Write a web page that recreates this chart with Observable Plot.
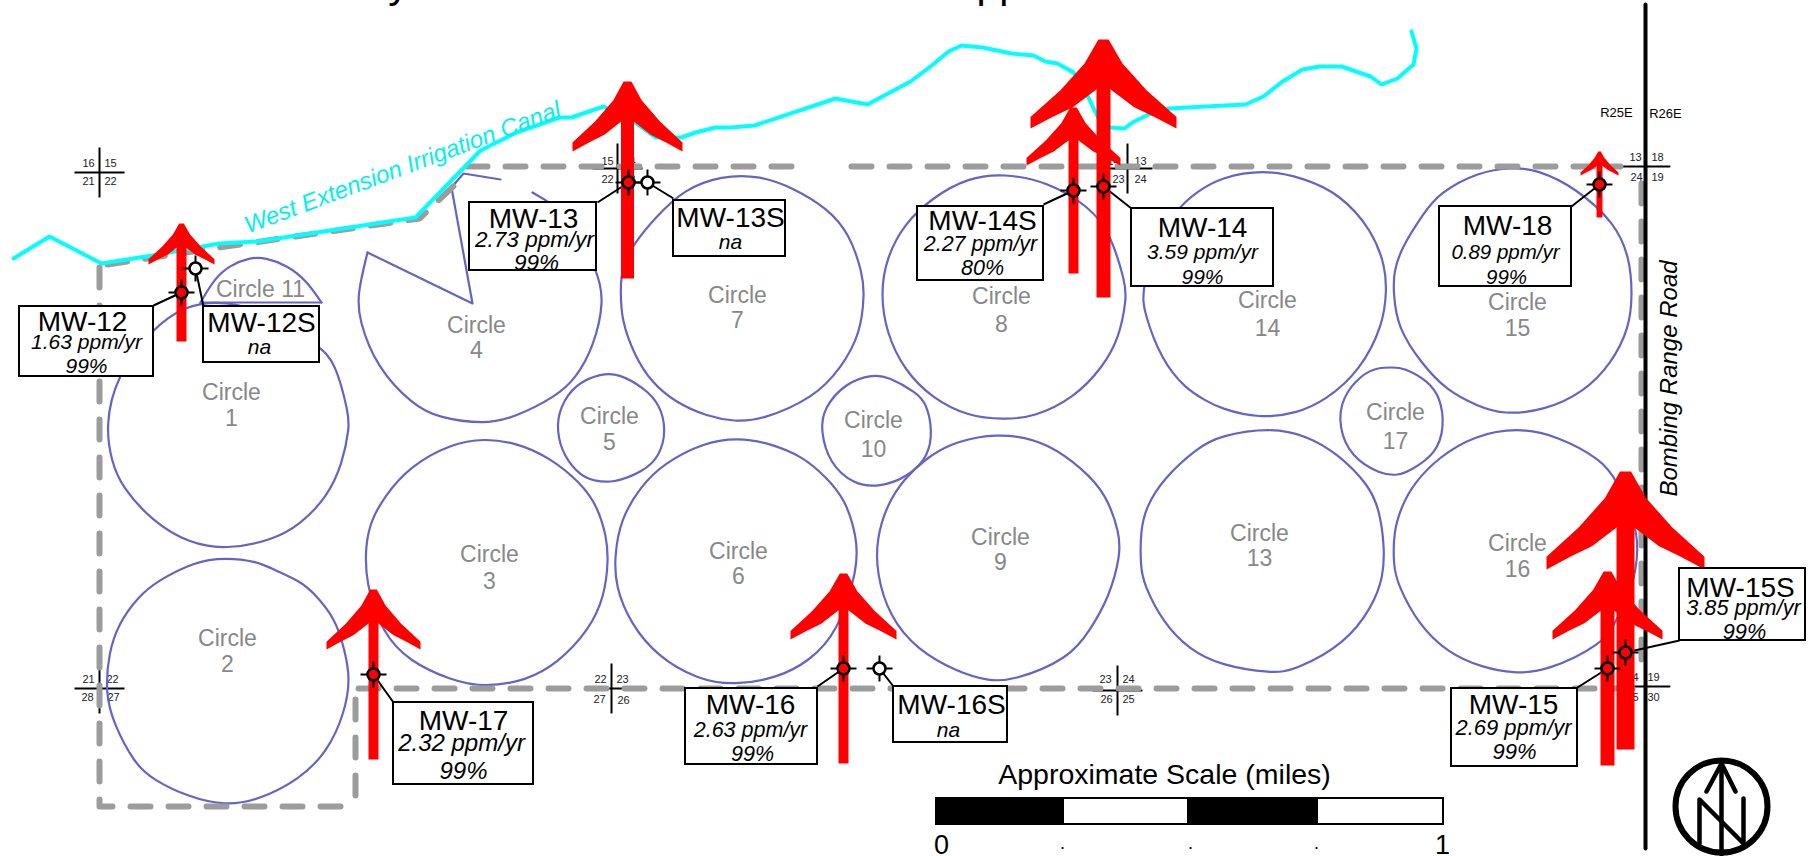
<!DOCTYPE html>
<html><head><meta charset="utf-8">
<script src="https://cdn.jsdelivr.net/npm/d3@7"></script>
<script src="https://cdn.jsdelivr.net/npm/@observablehq/plot@0.6"></script>
<style>html,body{margin:0;padding:0;background:#fff}svg{display:block;overflow:hidden}</style>
</head><body><div id="chart"></div>
<script>
// ---- monitoring wells
const wellNames = ["MW-12","MW-12S","MW-13","MW-13S","MW-14S","MW-14","MW-18","MW-17","MW-16","MW-16S","MW-15","MW-15S"];
const wellRates = ["1.63 ppm/yr","na","2.73 ppm/yr","na","2.27 ppm/yr","3.59 ppm/yr","0.89 ppm/yr","2.32 ppm/yr","2.63 ppm/yr","na","2.69 ppm/yr","3.85 ppm/yr"];
const wellConf  = ["99%","","99%","","80%","99%","99%","99%","99%","","99%","99%"];
const wellFill  = ["red","white","red","white","red","red","red","red","red","white","red","red"];
const wellX = [181,195,628,647,1073,1103,1599,373,843,879,1607,1625];
const wellY = [292,268,182,182,190,186,184,674,668,668,668,652];
const rateFont = [21,21,22.5,21,21.5,21,20.5,24,21.5,21,22,21.7];
// label boxes [x1,y1,x2,y2] and leader start [x,y]
const boxes = [[19,306,153,376],[203,306,319,362],[469,202,596,270],[673,200,785,256],[917,206,1043,280],[1131,208,1273,286],[1439,206,1571,286],[393,702,533,784],[685,688,817,764],[893,686,1007,742],[1451,688,1577,766],[1679,568,1805,640]];
const leaders = [[153,305],[203,306],[597,202],[673,198],[1043,204],[1131,208],[1571,206],[393,702],[817,686],[893,686],[1577,687],[1679,640]];
// text anchors [x,baseline]
const nameAt = [[82,330],[261,331],[533,227],[730,226],[982,229],[1202,236],[1507,234],[463,729],[750,713],[951,713],[1513,713],[1740,596]];
const rateAt = [[86,348],[259,353],[534,246],[730,248],[980,250],[1202,258],[1505,258],[461,750],[750,736],[948,736],[1513,734],[1743,614]];
const confAt = [[86,372],[0,0],[536,269],[0,0],[982,274],[1202,283],[1506,283],[463,778],[752,760],[0,0],[1514,758],[1744,638]];

// ---- trend arrows
const arrowX     = [181,627,1073,1103,1599,373,843,1607,1625];
const arrowTipY  = [223,81,107,39,151,589,573,571,471];
const arrowWingY = [264,151,165,128,175,649,639,639,569];
const arrowHalf  = [33,55,47,73,19,47,53,55,79];
const arrowBaseY = [341,278,273,297,217,759,763,765,749];
const arrowShaft = [10,13,10,14,6,10,10,14,18];
const headDX = [0.07,0.26,0.59,1,1,0.70,0.42,0.08];
const headDY = [0,0.27,0.57,0.87,1,0.87,0.76,0.55];

// ---- pivot circles
const circle1 = [[105,426],[115,377],[152,327],[186,305],[214,301],[253,305],[319,345],[335,362],[348,413],[349,426],[342,463],[327,496],[299,525],[271,540],[225,549],[189,543],[152,521],[121,486],[111,461]];
const circle2 = [[225,557],[257,561],[273,569],[300,581],[312,591],[335,618],[344,649],[350,678],[344,713],[327,751],[299,779],[257,800],[225,805],[189,797],[152,779],[134,763],[113,723],[105,693],[108,653],[118,623],[138,596],[156,581],[194,561]];
const circle3 = [[484,438],[514,442],[548,456],[581,483],[597,506],[606,536],[608,559],[604,596],[589,629],[557,663],[526,680],[484,687],[451,680],[409,661],[382,633],[365,583],[365,543],[371,519],[384,496],[409,466],[451,443]];
const circle4edge = [[451,187],[472,303],[367,252]];
const circle4arc = [[367,252],[357,293],[358,318],[376,367],[413,405],[437,417],[484,424],[514,417],[557,395],[575,378],[593,347],[604,300],[597,270],[570,220],[550,202],[532,192]];
const circle4top = [[451,187],[463,173],[500,179]];
const circle5 = [[556,430],[559,407],[575,383],[601,373],[618,373],[643,387],[659,403],[666,430],[659,456],[643,471],[612,483],[593,480],[581,476],[563,456]];
const circle6 = [[738,437],[770,443],[802,456],[825,476],[845,499],[856,536],[858,566],[837,633],[808,661],[778,677],[734,685],[697,679],[657,656],[630,623],[615,586],[614,556],[620,519],[640,486],[663,463],[703,442]];
const circle7 = [[721,175],[760,175],[794,188],[827,208],[849,233],[862,273],[864,293],[860,333],[841,367],[814,397],[760,420],[734,421],[707,416],[675,402],[651,382],[634,355],[621,320],[620,290],[621,267],[634,242],[655,217],[683,189]];
const circle8 = [[1003,173],[1047,181],[1090,207],[1110,233],[1125,283],[1126,297],[1119,337],[1102,367],[1074,397],[1033,417],[1003,419],[968,416],[932,398],[904,370],[886,333],[880,293],[886,257],[904,223],[932,197],[968,177]];
const circle9 = [[995,435],[1015,435],[1047,443],[1082,468],[1106,494],[1119,533],[1120,554],[1109,596],[1090,629],[1069,658],[1011,681],[987,680],[958,672],[916,649],[889,616],[876,573],[876,538],[887,503],[904,478],[924,459],[950,443],[980,436]];
const circle10 = [[820,430],[823,408],[845,382],[873,374],[887,376],[916,392],[926,403],[932,430],[928,456],[908,476],[879,487],[853,484],[829,463]];
const circle11arc = [[200,302],[214,278],[229,265],[249,257],[265,257],[287,265],[306,280],[321,302]];
const circle11base = [[200,302],[321,302]];
const circle13 = [[1270,427],[1306,435],[1337,453],[1368,484],[1379,509],[1384,546],[1383,576],[1372,606],[1345,643],[1294,670],[1272,673],[1220,665],[1189,649],[1163,623],[1143,583],[1140,566],[1140,529],[1146,506],[1162,479],[1197,447],[1220,435]];
const circle14 = [[1263,169],[1302,177],[1339,193],[1372,230],[1385,267],[1386,290],[1383,323],[1360,370],[1325,400],[1296,413],[1259,418],[1220,408],[1205,400],[1185,388],[1161,360],[1143,310],[1142,293],[1150,250],[1177,207],[1197,191],[1220,177]];
const circle15 = [[1513,167],[1536,169],[1575,187],[1615,223],[1629,257],[1632,293],[1629,327],[1611,363],[1583,392],[1544,410],[1503,414],[1478,406],[1446,390],[1421,363],[1397,327],[1393,293],[1393,272],[1401,247],[1423,213],[1438,193],[1478,171]];
const circle16 = [[1517,427],[1556,435],[1601,459],[1616,479],[1635,523],[1638,549],[1633,586],[1614,623],[1603,643],[1546,671],[1513,673],[1482,667],[1448,653],[1417,623],[1397,583],[1393,566],[1393,531],[1401,506],[1413,483],[1439,456],[1474,435]];
const circle17 = [[1392,367],[1403,367],[1427,380],[1440,397],[1444,426],[1436,453],[1410,470],[1398,475],[1380,474],[1350,456],[1338,426],[1341,397],[1362,373],[1378,367]];
const closedCircles = {circle1,circle2,circle3,circle5,circle6,circle7,circle8,circle9,circle10,circle13,circle14,circle15,circle16,circle17};
const arcs = {circle4arc,circle11arc};
const straightEdges = {circle4edge,circle4top,circle11base};
const circleLabels = [["Circle","1",231,399,425],["Circle","2",227,645,671],["Circle","3",489,561,588],["Circle","4",476,332,357],["Circle","5",609,423,449],["Circle","6",738,558,583],["Circle","7",737,302,327],["Circle","8",1001,303,331],["Circle","9",1000,544,569],["Circle","10",873,427,456],["Circle 11","",260,296,0],["Circle","13",1259,540,565],["Circle","14",1267,307,335],["Circle","15",1517,309,335],["Circle","16",1517,550,576],["Circle","17",1395,419,448]];

// ---- canal, boundary, road
const canal = [[13,258],[49,236],[101,263],[152,255],[219,243],[257,241],[415,217],[480,150],[516,132],[559,117],[571,117],[603,106],[636,123],[655,137],[681,137],[695,132],[715,127],[730,127],[754,125],[835,98],[867,104],[910,81],[930,66],[948,51],[961,45],[982,47],[1011,53],[1033,55],[1045,61],[1057,63],[1073,72],[1086,93],[1098,118],[1110,127],[1124,128],[1132,122],[1148,114],[1169,108],[1205,106],[1245,104],[1263,96],[1282,81],[1302,69],[1319,66],[1341,66],[1370,76],[1381,84],[1397,78],[1413,64],[1416,48],[1411,31]];
const boundaryA = [[107,264],[219,247],[419,218],[459,180]];
const boundaryB = [[467,166],[798,166]];
const boundaryC = [[851,166],[1620,166]];
const boundaryD = [[1641,183],[1641,673]];
const boundaryE = [[358,688],[1634,688]];
const boundaryF = [[355,699],[355,801]];
const boundaryG = [[99,267],[99,806],[345,806],[346,808]];
const road = [[1645,4],[1645,848]];

// ---- section corners [x, y, half width, half height]
const corners = [[99,172,25,25],[99,688,25,25],[611,688,25,25],[1117,690,25,25],[1127,168,25,25],[617,168,25,25]];
const cornerStub = [[[1620,166],[1669,166]],[[1634,686],[1669,686]]];
const sectionNums = [["16",88,163],["15",110,163],["21",88,181],["22",110,181],["21",88,679],["22",112,679],["28",87,697],["27",113,697],["22",600,679],["23",622,679],["27",599,699],["26",623,700],["23",1105,679],["24",1128,679],["26",1106,699],["25",1128,699],["13",1140,161],["23",1118,179],["24",1140,179],["14",1113,161],["15",607,161],["14",629,161],["22",607,179],["23",629,179],["13",1635,157],["18",1657,157],["24",1636,177],["19",1657,177],["19",1653,677],["30",1653,697],["24",1632,677],["25",1632,697]];
const rangeLabels = [["R25E",1616,112],["R26E",1665,113]];

// ---- scale bar
const scaleEdges = [936,1063,1188,1317,1443];
const scaleFills = ["black","white","black","white"];
const scaleTicks = [["0",941,853,27],[".",1062,848,18],[".",1190,848,18],[".",1316,848,18],["1",1442,853,27]];

// ---- north arrow
const northCentre = [1721,806];
const northStrokes = [[[1721,763],[1721,854]],[[1706,791],[1721,763],[1735,791]],[[1699,843],[1699,799],[1743,843],[1743,798]]];

const pts = o => Object.entries(o).flatMap(([k, a]) => a.map(([x,y]) => ({k,x,y})));
const xy = {x:"x", y:"y", z:"k"};
const FONT = "Liberation Sans, Arial, sans-serif";
const CIRCLE = {stroke:"#6464c8",strokeWidth:2.2};

const wells = wellNames.map((name,i) => ({name, rate:wellRates[i], conf:wellConf[i], fill:wellFill[i], x:wellX[i], y:wellY[i], rf:rateFont[i],
  b:boxes[i], l:leaders[i], n:nameAt[i], r:rateAt[i], c:confAt[i]}));
const arrows = arrowX.map((x,i) => ({id:i, x, tip:arrowTipY[i], wing:arrowWingY[i], half:arrowHalf[i], base:arrowBaseY[i], w:arrowShaft[i]}));
const headRows = arrows.flatMap(a => {
  const h = a.wing - a.tip;
  const right = headDX.map((d,j) => ({k:a.id, x:a.x + d*a.half, y:a.tip + headDY[j]*h}));
  const left = headDX.map((d,j) => ({k:a.id, x:a.x - d*a.half, y:a.tip + headDY[j]*h})).reverse();
  return [...right, ...left];
});
const bars = scaleFills.map((f,i) => ({f, x1:scaleEdges[i], x2:scaleEdges[i+1]}));
const crossH = corners.map(([x,y,w]) => ({x1:x-w,x2:x+w,y1:y,y2:y}));
const crossV = corners.map(([x,y,w,h]) => ({x1:x,x2:x,y1:y-h,y2:y+h}));
const crossMark = 13;

const plot = Plot.plot({
  width:1813, height:856, margin:0,
  x:{domain:[0,1813], range:[0,1813], axis:null},
  y:{domain:[0,856], range:[0,856], axis:null},
  style:{fontFamily:FONT, background:"#fff"},
  marks:[
    // clipped title remnants
    Plot.text(["y"],{x:[398],y:[-3],text:d=>d,fontSize:41,fill:"black",lineAnchor:"bottom"}),
    Plot.text(["pp"],{x:[976],y:[-3],text:d=>d,fontSize:41,fill:"black",textAnchor:"start",lineAnchor:"bottom"}),
    // section corner crosses and numbers
    Plot.link(crossH,{x1:"x1",x2:"x2",y1:"y1",y2:"y2",stroke:"black",strokeWidth:2}),
    Plot.link(crossV,{x1:"x1",x2:"x2",y1:"y1",y2:"y2",stroke:"black",strokeWidth:2}),
    ...cornerStub.map(s => Plot.line(s,{x:"0",y:"1",stroke:"black",strokeWidth:2})),
    Plot.text(sectionNums,{x:d=>d[1],y:d=>d[2],text:d=>d[0],fontSize:11,fill:"#222"}),
    Plot.text(rangeLabels,{x:d=>d[1],y:d=>d[2],text:d=>d[0],fontSize:13,fill:"black"}),
    // pivot circles
    Plot.line(pts(closedCircles),{...xy,curve:"basis-closed",...CIRCLE}),
    Plot.line(pts(arcs),{...xy,curve:"basis",...CIRCLE}),
    Plot.line(pts(straightEdges),{...xy,...CIRCLE}),
    // circle names
    Plot.text(circleLabels,{x:d=>d[2],y:d=>d[3],text:d=>d[0],fontSize:23,fill:"#888",lineAnchor:"bottom"}),
    Plot.text(circleLabels.filter(d=>d[1]),{x:d=>d[2],y:d=>d[4],text:d=>d[1],fontSize:23,fill:"#888",lineAnchor:"bottom"}),
    // boundary
    ...[boundaryA,boundaryB,boundaryC,boundaryD,boundaryE,boundaryF,boundaryG].map(b =>
      Plot.line(b,{x:"0",y:"1",stroke:"#9c9c9c",strokeWidth:6,strokeDasharray:"20,18",strokeLinecap:"round",strokeLinejoin:"round"})),
    // canal
    Plot.line(canal,{x:"0",y:"1",stroke:"#00ffff",strokeWidth:4,strokeLinejoin:"round"}),
    Plot.text(["West Extension Irrigation Canal"],{x:[402],y:[167],text:d=>d,rotate:-20.5,fontSize:24,fontStyle:"italic",fill:"#00f0f0"}),
    // road
    Plot.line(road,{x:"0",y:"1",stroke:"black",strokeWidth:4,strokeLinecap:"round"}),
    Plot.text(["Bombing Range Road"],{x:[1669],y:[378],text:d=>d,rotate:-90,fontSize:24,fontStyle:"italic",fill:"black"}),
    // leaders
    Plot.link(wells,{x1:d=>d.x,y1:d=>d.y,x2:d=>d.l[0],y2:d=>d.l[1],stroke:"black",strokeWidth:2}),
    // arrows
    Plot.link(arrows,{x1:"x",x2:"x",y1:d=>d.tip+(d.wing-d.tip)*0.3,y2:"base",stroke:"red",strokeWidth:"w"}),
    Plot.line(headRows,{x:"x",y:"y",z:"k",fill:"red",stroke:"none"}),
    // well symbols
    Plot.link(wells,{x1:d=>d.x-crossMark,x2:d=>d.x+crossMark,y1:"y",y2:"y",stroke:"black",strokeWidth:2}),
    Plot.link(wells,{x1:"x",x2:"x",y1:d=>d.y-crossMark,y2:d=>d.y+crossMark,stroke:"black",strokeWidth:2}),
    Plot.dot(wells,{x:"x",y:"y",r:6,fill:"fill",stroke:"black",strokeWidth:2.5}),
    // label boxes
    Plot.rect(wells,{x1:d=>d.b[0],y1:d=>d.b[1],x2:d=>d.b[2],y2:d=>d.b[3],fill:"white",stroke:"black",strokeWidth:2}),
    Plot.text(wells,{x:d=>d.n[0],y:d=>d.n[1],text:"name",fontSize:28,fill:"black",lineAnchor:"bottom"}),
    ...wells.flatMap(d => [
      Plot.text([d],{x:d=>d.r[0],y:d=>d.r[1],text:"rate",fontSize:d.rf,fontStyle:"italic",fill:"black",lineAnchor:"bottom"}),
      Plot.text(d.conf?[d]:[],{x:d=>d.c[0],y:d=>d.c[1],text:"conf",fontSize:d.rf,fontStyle:"italic",fill:"black",lineAnchor:"bottom"})
    ]),
    // scale
    Plot.text(["Approximate Scale (miles)"],{x:[1164],y:[783],text:d=>d,fontSize:28.5,fill:"black",lineAnchor:"bottom"}),
    Plot.rect(bars,{x1:"x1",x2:"x2",y1:()=>798,y2:()=>824,fill:"f",stroke:"black",strokeWidth:2}),
    Plot.text(scaleTicks,{x:d=>d[1],y:d=>d[2],text:d=>d[0],fontSize:d=>d[3],fill:"black",lineAnchor:"bottom"}),
    // north arrow
    Plot.dot([northCentre],{x:"0",y:"1",r:46,fill:"none",stroke:"black",strokeWidth:6}),
    ...northStrokes.map(s => Plot.line(s,{x:"0",y:"1",stroke:"black",strokeWidth:4.5})),
  ]
});
document.getElementById("chart").append(plot);
</script></body></html>
